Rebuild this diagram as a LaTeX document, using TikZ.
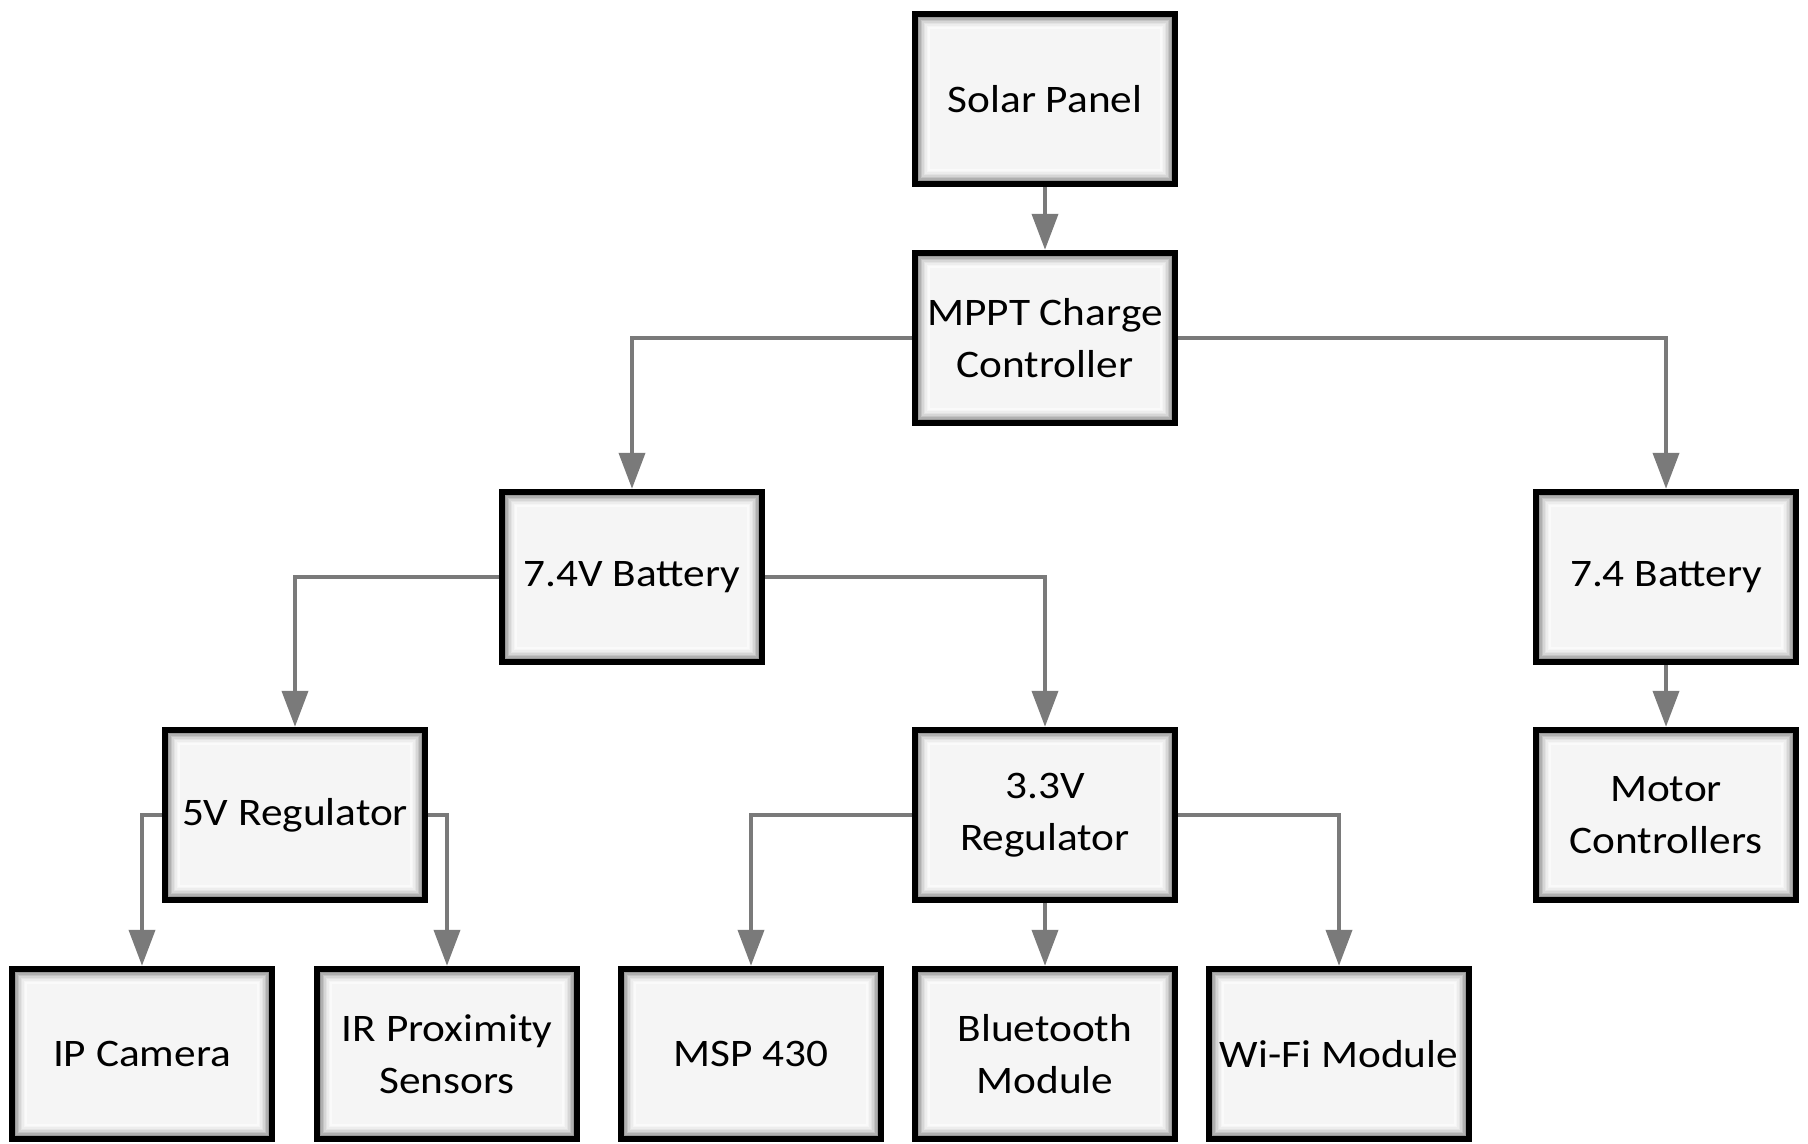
\documentclass[tikz,border=0pt]{standalone}
\usepackage{fontspec}
\setmainfont[FakeStretch=1.11]{Carlito}
\usetikzlibrary{arrows.meta}
\definecolor{linkgray}{RGB}{122,122,122}
\definecolor{boxfill}{RGB}{245,245,245}

\begin{document}
\begin{tikzpicture}[x=0.02cm,y=-0.02cm,
    block/.style={draw=black,line width=0.12cm,fill=boxfill,minimum width=5.2cm,minimum height=3.41cm,
      align=center,inner sep=0pt,font=\fontsize{22.2}{29.6}\selectfont,
      path picture={\foreach \ins/\gr in {0.075/40,0.105/31,0.135/23,0.165/16,0.195/11,0.225/7,0.255/4,0.285/2}{
        \draw[line width=0.032cm,black!\gr] ([shift={(\ins cm,-\ins cm)}]path picture bounding box.north west)
          rectangle ([shift={(-\ins cm,\ins cm)}]path picture bounding box.south east);}}},
    link/.style={draw=linkgray,line width=0.08cm,-{Triangle[length=0.72cm,width=0.52cm]}}]
    \useasboundingbox (0,0) rectangle (1808,1143);
    % supply
    \node[block] (solar) at (1045,99) {Solar Panel};
    \node[block] (mppt) at (1045,338) {MPPT Charge\\Controller};
    \node[block] (batA) at (632,577) {7.4V Battery};
    \node[block] (batB) at (1666,577) {7.4 Battery};
    % regulators
    \node[block] (regFive) at (295,815) {5V Regulator};
    \node[block] (regThree) at (1045,815) {3.3V\\Regulator};
    \node[block] (motor) at (1666,815) {Motor\\Controllers};
    % loads
    \node[block] (cam) at (142,1054) {IP Camera};
    \node[block] (ir) at (447,1054) {IR Proximity\\Sensors};
    \node[block] (msp) at (751,1054) {MSP 430};
    \node[block] (bt) at (1045,1054) {Bluetooth\\Module};
    \node[block] (wifi) at (1339,1054) {Wi-Fi Module};

    \draw[link] (solar) -- (mppt);
    \draw[link] (mppt.west) -| (batA);
    \draw[link] (mppt.east) -| (batB);
    \draw[link] (batA.west) -| (regFive);
    \draw[link] (batA.east) -| (regThree);
    \draw[link] (batB) -- (motor);
    \draw[link] (regFive.west) -| (cam);
    \draw[link] (regFive.east) -| (ir);
    \draw[link] (regThree.west) -| (msp);
    \draw[link] (regThree) -- (bt);
    \draw[link] (regThree.east) -| (wifi);
\end{tikzpicture}
\end{document}
